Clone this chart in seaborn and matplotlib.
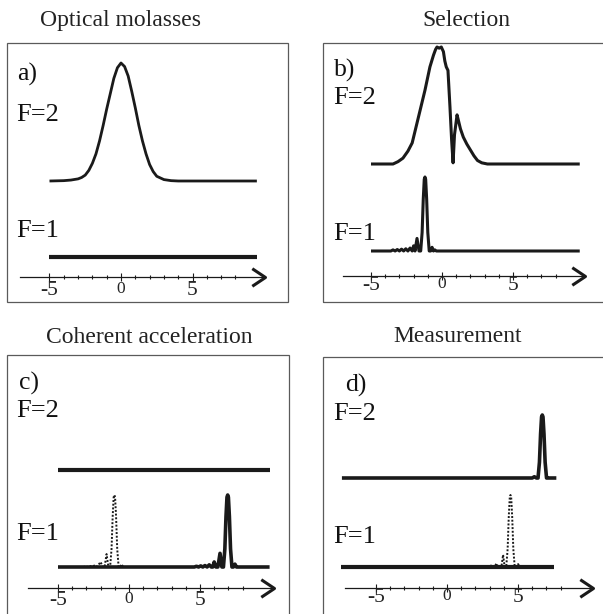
import numpy as np
import matplotlib
matplotlib.use("Agg")
import matplotlib.pyplot as plt
import seaborn as sns
from matplotlib.path import Path
from matplotlib.patches import Rectangle

sns.set_theme(style="white")
plt.rcParams["font.family"] = ["Liberation Serif", "DejaVu Serif"]

# ---------------------------------------------------------------
# data: momentum profiles (x in recoil units, h = relative height)
# ---------------------------------------------------------------
TITLES = ["Optical molasses", "Selection", "Coherent acceleration", "Measurement"]
PANEL_TAGS = ["a)", "b)", "c)", "d)"]
TICK_VALUES = [-5, 0, 5]
TICK_LABELS = ["-5", "0", "5"]
MINOR_TICKS = [-4, -3, -2, -1, 1, 2, 3, 4, 6, 7, 8]

# a) optical molasses
a_f2_x = [-5.0, -4.0, -3.5, -3.0, -2.75, -2.5, -2.25, -2.0, -1.75, -1.5, -1.25, -1.0,
          -0.75, -0.5, -0.25, 0.0, 0.25, 0.5, 0.75, 1.0, 1.25, 1.5, 1.75, 2.0, 2.25,
          2.5, 3.0, 3.5, 4.0, 9.5]
a_f2_h = [0, 0.003, 0.008, 0.018, 0.03, 0.05, 0.09, 0.15, 0.23, 0.34, 0.47, 0.61,
          0.74, 0.87, 0.96, 1.0, 0.97, 0.89, 0.76, 0.62, 0.47, 0.34, 0.23, 0.14, 0.08,
          0.04, 0.012, 0.003, 0, 0]
a_f1_x = [-5.0, 9.5]
a_f1_h = [0, 0]

# b) selection
b_f2_x = [-5.0, -3.45, -3.1, -2.75, -2.4, -2.1, -1.7, -1.2, -0.85, -0.6, -0.45, -0.35,
          -0.2, -0.05, 0.1, 0.2, 0.3, 0.42, 0.56, 0.68, 0.78, 0.88, 1.06, 1.18, 1.3,
          1.5, 1.75, 2.0, 2.25, 2.5, 2.8, 3.2, 9.7]
b_f2_h = [0, 0, 0.02, 0.05, 0.11, 0.18, 0.38, 0.63, 0.83, 0.93, 0.98, 1.0,
          0.99, 1.0, 0.96, 0.88, 0.83, 0.80, 0.49, 0.2, 0.01, 0.25, 0.42, 0.36, 0.3,
          0.23, 0.17, 0.12, 0.07, 0.03, 0.01, 0, 0]
b_f1_x = [-5.0, -3.6, -3.45, -3.3, -3.15, -3.0, -2.85, -2.7, -2.55, -2.4, -2.25, -2.1,
          -2.0, -1.9, -1.76, -1.62, -1.5, -1.4, -1.32, -1.25, -1.2, -1.15, -1.08, -1.0,
          -0.9, -0.8, -0.7, -0.6, -0.5, -0.4, 9.7]
b_f1_h = [0, 0, 0.015, 0, 0.02, 0, 0.025, 0, 0.03, 0, 0.04, 0,
          0.07, 0, 0.17, 0, 0, 0.25, 0.7, 0.97, 1.0, 0.97, 0.7, 0.25,
          0, 0, 0.05, 0, 0.015, 0, 0]

# c) coherent acceleration
c_f2_x = [-5.0, 9.9]
c_f2_h = [0, 0]
c_f1_x = [-5.0, 4.6, 4.75, 4.9, 5.05, 5.2, 5.35, 5.5, 5.65, 5.8, 5.9, 6.0, 6.12, 6.26,
          6.41, 6.54, 6.65, 6.75, 6.83, 6.9, 6.95, 7.0, 7.07, 7.15, 7.25, 7.35, 7.46,
          7.57, 7.7, 9.9]
c_f1_h = [0, 0, 0.01, 0, 0.015, 0, 0.02, 0, 0.03, 0, 0, 0.07, 0, 0,
          0.19, 0, 0, 0.25, 0.7, 0.97, 1.0, 0.97, 0.7, 0.25, 0, 0, 0.04,
          0, 0, 0]
c_f1_before_x = [-3.5, -3.2, -3.05, -2.9, -2.75, -2.6, -2.45, -2.3, -2.15, -2.0, -1.85,
                 -1.72, -1.58, -1.45, -1.33, -1.23, -1.15, -1.08, -1.03, -0.98, -0.91,
                 -0.83, -0.73, -0.62, -0.52, -0.42, -0.2]
c_f1_before_h = [0, 0, 0.01, 0, 0.015, 0, 0.02, 0, 0.03, 0.07, 0,
                 0, 0.18, 0, 0, 0.25, 0.7, 0.97, 1.0, 0.97, 0.7,
                 0.25, 0, 0, 0.04, 0, 0]

# d) measurement
d_f2_x = [-7.4, 6.0, 6.15, 6.3, 6.41, 6.51, 6.59, 6.66, 6.71, 6.76, 6.83, 6.91, 7.01,
          7.15, 7.7]
d_f2_h = [0, 0, 0.02, 0, 0, 0.25, 0.7, 0.97, 1.0, 0.97, 0.7, 0.25, 0,
          0, 0]
d_f1_x = [-7.45, 7.5]
d_f1_h = [0, 0]
d_f1_before_x = [2.5, 2.8, 2.95, 3.1, 3.25, 3.35, 3.48, 3.6, 3.72, 3.83, 3.95, 4.06,
                 4.17, 4.27, 4.35, 4.42, 4.47, 4.52, 4.59, 4.67, 4.77, 4.88, 5.01,
                 5.12, 5.3]
d_f1_before_h = [0, 0.01, 0, 0.02, 0, 0, 0.05, 0, 0, 0, 0.17, 0,
                 0, 0.25, 0.7, 0.97, 1.0, 0.97, 0.7, 0.25, 0, 0, 0.04,
                 0, 0]

# ---------------------------------------------------------------
# layout (figure pixels)
# ---------------------------------------------------------------
W, H = 603, 614
fig = plt.figure(figsize=(W / 100, H / 100), dpi=100)

CHEVRON = Path([(-1.5, 1.0), (0.0, 0.0), (-1.5, -1.0)],
               [Path.MOVETO, Path.LINETO, Path.LINETO])


def ftext(x, y, s, **kw):
    fig.text(x / W, 1 - y / H, s, **kw)


def make_panel(box, x_zero, unit, axis_px, axis_span, label_pad):
    left, top, right, bottom = box
    r = min(right, W)
    b = min(bottom, H)
    fig.add_artist(Rectangle((left / W, 1 - bottom / H), (right - left) / W,
                             (bottom - top) / H, transform=fig.transFigure,
                             fill=False, ec="#5a5a5a", lw=0.9))
    ax = fig.add_axes([left / W, 1 - b / H, (r - left) / W, (b - top) / H])
    ax.set_xlim((left - x_zero) / unit, (r - x_zero) / unit)
    ax.set_ylim(0, b - top)
    ax.patch.set_visible(False)
    for s in ["left", "right", "top"]:
        ax.spines[s].set_visible(False)
    axis_y = b - axis_px
    ax.spines["bottom"].set_position(("data", axis_y))
    ax.spines["bottom"].set_bounds(axis_span[0], axis_span[1])
    ax.spines["bottom"].set_color("k")
    ax.spines["bottom"].set_linewidth(0.9)
    ax.set_yticks([])
    ax.set_xticks(TICK_VALUES, labels=TICK_LABELS)
    ax.set_xticks(MINOR_TICKS, minor=True)
    ax.tick_params(axis="x", which="major", direction="inout", length=5.5,
                   width=0.8, color="k", pad=label_pad, labelsize=15.5, bottom=True)
    ax.tick_params(axis="x", which="minor", direction="inout", length=3,
                   width=0.8, color="k", bottom=True)
    for lbl in ax.get_xticklabels():
        if lbl.get_text() == "0":
            lbl.set_fontsize(12.5)
    ax.plot([axis_span[1]], [axis_y], marker=CHEVRON, ms=19, mfc="none",
            mec="k", mew=2.2, clip_on=False)
    return ax, b


def curve(ax, b, xs, hs, base_px, amp_px, lw, dotted=False):
    y = (b - base_px) + amp_px * np.asarray(hs, dtype=float)
    kw = dict(linestyle=(0, (1, 0.9))) if dotted else dict(solid_capstyle="butt")
    sns.lineplot(x=xs, y=y, ax=ax, color="k", lw=lw, sort=False,
                 estimator=None, **kw)
    ax.set(xlabel="", ylabel="")


# a) Optical molasses
ax, b = make_panel((7, 43, 288, 302), 121, 14.3, 277, (-7.05, 10.1), 0.0)
curve(ax, b, a_f2_x, a_f2_h, 181, 118, 2.0)
curve(ax, b, a_f1_x, a_f1_h, 257, 0, 3.0)

# b) Selection
ax, b = make_panel((323, 43, 610, 302), 442, 14.2, 276, (-7.0, 10.1), -3.0)
curve(ax, b, b_f2_x, b_f2_h, 164, 117, 2.2)
curve(ax, b, b_f1_x, b_f1_h, 251, 74, 2.2)

# c) Coherent acceleration
ax, b = make_panel((7, 355, 289, 620), 129, 14.2, 588, (-7.1, 10.2), -0.5)
curve(ax, b, c_f2_x, c_f2_h, 470, 0, 3.0)
curve(ax, b, c_f1_before_x, c_f1_before_h, 567, 72, 1.4, dotted=True)
curve(ax, b, c_f1_x, c_f1_h, 567, 72, 2.6)

# d) Measurement
ax, b = make_panel((323, 357, 610, 620), 447, 14.2, 588, (-7.2, 10.3), -3.0)
curve(ax, b, d_f2_x, d_f2_h, 478, 63, 2.6)
curve(ax, b, d_f1_before_x, d_f1_before_h, 567, 72, 1.4, dotted=True)
curve(ax, b, d_f1_x, d_f1_h, 567, 0, 3.0)

# titles and labels (positions are text baselines)
title_pos = [(120, 26), (466, 26), (149, 343), (458, 342)]
for (tx, ty), t in zip(title_pos, TITLES):
    ftext(tx, ty, t, ha="center", va="baseline", fontsize=17, color="#222")

tag_pos = [(17, 81), (334, 77), (19, 390), (345, 392)]
f2_pos = [(16, 121), (333, 104), (16, 417), (333, 420)]
f1_pos = [(16, 237), (333, 240), (16, 540), (333, 543)]
for i in range(4):
    ftext(*tag_pos[i], PANEL_TAGS[i], ha="left", va="baseline", fontsize=18.5, color="#111")
    ftext(*f2_pos[i], "F=2", ha="left", va="baseline", fontsize=19, color="#111")
    ftext(*f1_pos[i], "F=1", ha="left", va="baseline", fontsize=19, color="#111")

fig.savefig("out.png", dpi=100, facecolor="white")
